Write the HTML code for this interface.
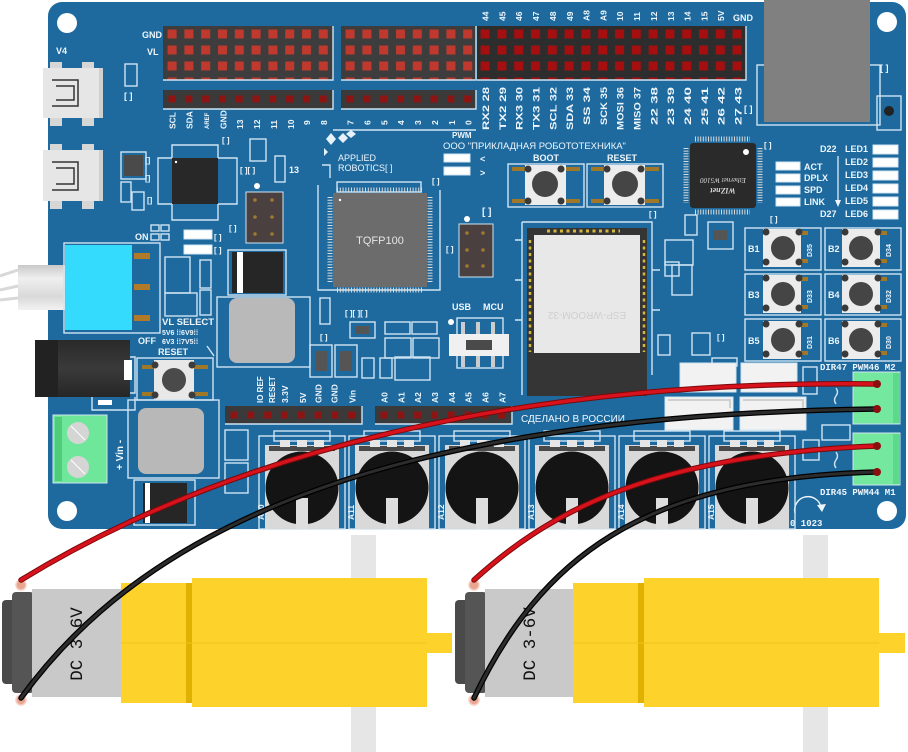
<!DOCTYPE html>
<html><head><meta charset="utf-8"><style>
html,body{margin:0;padding:0;background:#fff;}
svg{display:block;}
text{font-family:"Liberation Sans",sans-serif;font-weight:bold;fill:#eef6fc;}
.m{font-family:"Liberation Mono",monospace;}
.o{fill:none;stroke:#cfe4f3;stroke-width:1.4;}
</style></head><body>
<svg width="908" height="752" viewBox="0 0 908 752" xmlns="http://www.w3.org/2000/svg">
<defs>
<pattern id="pA" x="163.6" y="26" width="16.8" height="16" patternUnits="userSpaceOnUse"><rect x="4" y="3.5" width="9" height="9" fill="#c0392e"/></pattern>
<pattern id="pB" x="341.6" y="26" width="16.8" height="16" patternUnits="userSpaceOnUse"><rect x="4" y="3.5" width="9" height="9" fill="#c0392e"/></pattern>
<pattern id="pC" x="476.6" y="26" width="16.8" height="16" patternUnits="userSpaceOnUse"><rect x="4" y="3.5" width="9" height="9" fill="#a50f0f"/></pattern>
<pattern id="sA" x="163.6" y="91" width="16.8" height="16" patternUnits="userSpaceOnUse"><rect x="4.9" y="4.5" width="7" height="7" fill="#8e1414"/></pattern>
<pattern id="sB" x="341.6" y="91" width="16.8" height="16" patternUnits="userSpaceOnUse"><rect x="4.9" y="4.5" width="7" height="7" fill="#8e1414"/></pattern>
<pattern id="sP" x="225.6" y="407" width="16.8" height="16" patternUnits="userSpaceOnUse"><rect x="4.9" y="4.5" width="7" height="7" fill="#8e1414"/></pattern>
<pattern id="sQ" x="375.6" y="407" width="16.8" height="16" patternUnits="userSpaceOnUse"><rect x="4.9" y="4.5" width="7" height="7" fill="#8e1414"/></pattern>
<linearGradient id="lev" x1="0" y1="0" x2="0" y2="1"><stop offset="0" stop-color="#c9c9c9"/><stop offset="0.3" stop-color="#efefef"/><stop offset="0.7" stop-color="#d9d9d9"/><stop offset="1" stop-color="#f2f2f2"/></linearGradient>
<linearGradient id="jack" x1="0" y1="0" x2="0" y2="1"><stop offset="0" stop-color="#2a2a2a"/><stop offset="0.5" stop-color="#3a3a3a"/><stop offset="1" stop-color="#262626"/></linearGradient>
</defs>

<!-- BOARD -->
<rect x="48" y="2" width="858" height="527" rx="14" fill="#1e6a9f"/>
<circle cx="67" cy="23" r="10" fill="#fff"/>
<circle cx="67" cy="511" r="10" fill="#fff"/>
<circle cx="887" cy="22" r="10" fill="#fff"/>
<circle cx="887" cy="511" r="10" fill="#fff"/>

<!-- Ethernet jack -->
<rect x="757" y="65" width="123" height="60" class="o"/>
<rect x="764" y="0" width="106" height="122" fill="#808080"/>
<rect x="877" y="96" width="24" height="34" class="o"/>
<circle cx="889" cy="111" r="5" fill="#222"/>
<text x="880" y="71" font-size="9">[ ]</text>

<!-- top headers -->
<rect x="163" y="26" width="170" height="54" fill="#3d3d3d"/>
<rect x="163" y="26" width="170" height="54" fill="url(#pA)"/>
<rect x="341" y="26" width="135" height="54" fill="#3d3d3d"/>
<rect x="341" y="26" width="135" height="54" fill="url(#pB)"/>
<rect x="477" y="26" width="269" height="54" fill="#2d2d2d"/>
<rect x="477" y="26" width="269" height="54" fill="url(#pC)"/>
<path d="M163,80 H333 V26 M341,80 H476 V26 M477,80 H746 V26" class="o"/>
<rect x="163" y="90" width="170" height="19" fill="#3a3a3a"/>
<rect x="163" y="90" width="170" height="19" fill="url(#sA)"/>
<rect x="341" y="90" width="135" height="19" fill="#3a3a3a"/>
<rect x="341" y="90" width="135" height="19" fill="url(#sB)"/>
<path d="M163,109 H333 V90 M341,109 H476 V90" class="o"/>
<path d="M333,130 H476" class="o"/>

<text x="142" y="38" font-size="9">GND</text>
<text x="147" y="55" font-size="9">VL</text>
<text x="56" y="54" font-size="9">V4</text>

<!-- labels under block A/B -->
<g font-size="8.5">
<text transform="translate(175.5,129) rotate(-90)">SCL</text>
<text transform="translate(192.5,129) rotate(-90)">SDA</text>
<text transform="translate(209,129) rotate(-90)" font-size="6">AREF</text>
<text transform="translate(226.5,129) rotate(-90)">GND</text>
<text transform="translate(243,129) rotate(-90)">13</text>
<text transform="translate(260,129) rotate(-90)">12</text>
<text transform="translate(277,129) rotate(-90)">11</text>
<text transform="translate(294,129) rotate(-90)">10</text>
<text transform="translate(310,125) rotate(-90)">9</text>
<text transform="translate(327,125) rotate(-90)">8</text>
<text transform="translate(353.5,125) rotate(-90)">7</text>
<text transform="translate(370.5,125) rotate(-90)">6</text>
<text transform="translate(387.5,125) rotate(-90)">5</text>
<text transform="translate(404,125) rotate(-90)">4</text>
<text transform="translate(421,125) rotate(-90)">3</text>
<text transform="translate(438,125) rotate(-90)">2</text>
<text transform="translate(455,125) rotate(-90)">1</text>
<text transform="translate(471.5,125) rotate(-90)">0</text>
</g>
<!-- labels above block C -->
<g font-size="8.5">
<text transform="translate(488.5,21) rotate(-90)">44</text>
<text transform="translate(505.5,21) rotate(-90)">45</text>
<text transform="translate(522,21) rotate(-90)">46</text>
<text transform="translate(539,21) rotate(-90)">47</text>
<text transform="translate(556,21) rotate(-90)">48</text>
<text transform="translate(573,21) rotate(-90)">49</text>
<text transform="translate(589.5,21) rotate(-90)">A8</text>
<text transform="translate(606.5,21) rotate(-90)">A9</text>
<text transform="translate(623,21) rotate(-90)">10</text>
<text transform="translate(640,21) rotate(-90)">11</text>
<text transform="translate(657,21) rotate(-90)">12</text>
<text transform="translate(674,21) rotate(-90)">13</text>
<text transform="translate(690.5,21) rotate(-90)">14</text>
<text transform="translate(707.5,21) rotate(-90)">15</text>
<text transform="translate(724,21) rotate(-90)">5V</text>
<text x="733" y="21" font-size="9">GND</text>
</g>
<!-- labels below block C -->
<g font-size="9">
<text transform="translate(489,130) rotate(-90)" textLength="43" lengthAdjust="spacingAndGlyphs">RX2 28</text>
<text transform="translate(506,130) rotate(-90)" textLength="43" lengthAdjust="spacingAndGlyphs">TX2 29</text>
<text transform="translate(522.5,130) rotate(-90)" textLength="43" lengthAdjust="spacingAndGlyphs">RX3 30</text>
<text transform="translate(539.5,130) rotate(-90)" textLength="43" lengthAdjust="spacingAndGlyphs">TX3 31</text>
<text transform="translate(556.5,130) rotate(-90)" textLength="43" lengthAdjust="spacingAndGlyphs">SCL 32</text>
<text transform="translate(573,130) rotate(-90)" textLength="43" lengthAdjust="spacingAndGlyphs">SDA 33</text>
<text transform="translate(590,125) rotate(-90)" textLength="38" lengthAdjust="spacingAndGlyphs">SS 34</text>
<text transform="translate(607,125) rotate(-90)" textLength="38" lengthAdjust="spacingAndGlyphs">SCK 35</text>
<text transform="translate(623.5,130) rotate(-90)" textLength="43" lengthAdjust="spacingAndGlyphs">MOSI 36</text>
<text transform="translate(640.5,130) rotate(-90)" textLength="43" lengthAdjust="spacingAndGlyphs">MISO 37</text>
<text transform="translate(657.5,125) rotate(-90)" textLength="38" lengthAdjust="spacingAndGlyphs">22 38</text>
<text transform="translate(674,125) rotate(-90)" textLength="38" lengthAdjust="spacingAndGlyphs">23 39</text>
<text transform="translate(691,125) rotate(-90)" textLength="38" lengthAdjust="spacingAndGlyphs">24 40</text>
<text transform="translate(708,125) rotate(-90)" textLength="38" lengthAdjust="spacingAndGlyphs">25 41</text>
<text transform="translate(724.5,125) rotate(-90)" textLength="38" lengthAdjust="spacingAndGlyphs">26 42</text>
<text transform="translate(741.5,125) rotate(-90)" textLength="38" lengthAdjust="spacingAndGlyphs">27 43</text>
</g>
<text x="744" y="112" font-size="9">[ ]</text>

<!-- USB ports -->
<g>
<rect x="50" y="62" width="12" height="8" fill="#d6d6d6"/><rect x="82" y="62" width="12" height="8" fill="#d6d6d6"/>
<rect x="50" y="116" width="12" height="10" fill="#d6d6d6"/><rect x="82" y="116" width="12" height="10" fill="#d6d6d6"/>
<rect x="43" y="68" width="60" height="50" fill="#e6e6e6"/>
<rect x="99" y="68" width="4" height="50" fill="#d0d0d0"/>
<path d="M52,80 H78 V106 H52 M56,86 H74 V100 H56" fill="none" stroke="#333" stroke-width="1.5"/>
<rect x="50" y="144" width="12" height="8" fill="#d6d6d6"/><rect x="82" y="144" width="12" height="8" fill="#d6d6d6"/>
<rect x="50" y="200" width="12" height="9" fill="#d6d6d6"/><rect x="82" y="200" width="12" height="9" fill="#d6d6d6"/>
<rect x="43" y="150" width="60" height="51" fill="#e6e6e6"/>
<rect x="99" y="150" width="4" height="51" fill="#d0d0d0"/>
<path d="M52,162 H78 V190 H52 M56,168 H74 V184 H56" fill="none" stroke="#333" stroke-width="1.5"/>
</g>
<rect x="125" y="64" width="12" height="22" class="o"/>
<text x="124" y="99" font-size="9">[ ]</text>

<!-- small USB chip area -->
<rect x="121" y="152" width="25" height="27" class="o"/>
<rect x="124" y="155" width="19" height="21" fill="#4a4a4a"/>
<rect x="121" y="182" width="10" height="20" class="o"/>
<rect x="132" y="192" width="12" height="18" class="o"/>
<text x="145" y="163" font-size="8">[]</text><text x="145" y="181" font-size="8">[]</text><text x="147" y="203" font-size="8">[]</text>
<path d="M172,145 H218 V158 H237 V204 H218 V220 H172 V204 H158 V158 H172 Z" class="o"/>
<rect x="172" y="158" width="46" height="46" fill="#282828"/>
<circle cx="176" cy="162" r="1.2" fill="#fff"/>
<text x="222" y="143" font-size="8">[ ]</text>
<rect x="250" y="139" width="16" height="22" class="o"/>
<text x="240" y="173" font-size="8">[ ][ ]</text>
<rect x="275" y="156" width="10" height="26" class="o"/>
<text x="289" y="173" font-size="9">13</text>
<circle cx="257" cy="186" r="3" fill="#fff"/>
<rect x="246" y="192" width="37" height="51" fill="#4a4040" stroke="#cfe4f3" stroke-width="1"/>
<g fill="#a07830"><circle cx="255" cy="200" r="1.8"/><circle cx="272" cy="200" r="1.8"/><circle cx="255" cy="217" r="1.8"/><circle cx="272" cy="217" r="1.8"/><circle cx="255" cy="234" r="1.8"/><circle cx="272" cy="234" r="1.8"/></g>
<text x="229" y="231" font-size="8">[ ]</text>
<text x="135" y="240" font-size="9">ON</text>
<rect x="151" y="225" width="8" height="6" class="o"/><rect x="161" y="225" width="8" height="6" class="o"/>
<rect x="151" y="234" width="8" height="6" class="o"/><rect x="161" y="234" width="8" height="6" class="o"/>
<rect x="184" y="230" width="28" height="9" fill="#fff" stroke="#cfe4f3"/>
<rect x="184" y="245" width="28" height="9" fill="#fff" stroke="#cfe4f3"/>
<text x="214" y="240" font-size="8">[ ]</text><text x="214" y="253" font-size="8">[ ]</text>

<!-- cyan switch -->
<path d="M0,276 L18,270 M0,290 L18,286 M0,300 L18,298" stroke="#d8d8d8" stroke-width="3"/>
<rect x="18" y="265" width="48" height="45" fill="url(#lev)"/>
<rect x="64" y="243" width="96" height="90" class="o"/>
<rect x="65" y="245" width="67" height="85" fill="#34dbfc"/>
<g fill="#b07a28"><rect x="134" y="253" width="16" height="6"/><rect x="134" y="284" width="16" height="6"/><rect x="134" y="315" width="16" height="6"/></g>
<rect x="165" y="257" width="25" height="36" class="o"/>
<rect x="165" y="293" width="32" height="23" class="o"/>
<rect x="200" y="260" width="11" height="28" class="o"/>
<rect x="200" y="290" width="11" height="25" class="o"/>
<text x="162" y="325" font-size="9.5">VL SELECT</text>
<text x="162" y="335" font-size="7">5V6 ⁞⁞6V9⁞⁞</text>
<text x="138" y="344" font-size="9">OFF</text>
<text x="162" y="344" font-size="7">6V3 ⁞⁞7V5⁞⁞</text>
<text x="158" y="355" font-size="9">RESET</text>
<path d="M207,346 L214,356" class="o"/>

<!-- DC jack -->
<rect x="35" y="340" width="95" height="57" fill="url(#jack)"/>
<rect x="35" y="340" width="23" height="57" fill="#222"/>
<rect x="124" y="360" width="8" height="20" fill="#fff"/>
<path d="M130,357 H135 V393 H130 M92,397 V410 H135 V397" class="o"/>
<rect x="98" y="400" width="14" height="5" fill="#fff"/>

<!-- reset button left -->
<rect x="137" y="358" width="76" height="42" class="o"/>
<rect x="142" y="365" width="66" height="4" fill="#a07828"/><rect x="142" y="392" width="66" height="4" fill="#a07828"/>
<rect x="154" y="360" width="40" height="40" fill="#e8e8e8"/>
<circle cx="174" cy="380" r="12" fill="#4a4a4a"/>
<g fill="#3c3c3c"><circle cx="155" cy="365" r="3.5"/><circle cx="192" cy="365" r="3.5"/><circle cx="155" cy="395" r="3.5"/><circle cx="192" cy="395" r="3.5"/></g>

<!-- green terminal Vin -->
<rect x="53" y="415" width="54" height="68" fill="#6fe79a" stroke="#cfe4f3"/>
<rect x="55" y="417" width="7" height="64" fill="#4fcd7a"/>
<circle cx="78" cy="433" r="11" fill="#d5d5d5"/>
<circle cx="78" cy="467" r="11" fill="#d5d5d5"/>
<path d="M71,426 L85,440 M71,460 L85,474" stroke="#fff" stroke-width="1"/>
<text transform="translate(123,470) rotate(-90)" font-size="10">+ Vin -</text>

<!-- inductors -->
<rect x="128" y="400" width="91" height="78" class="o"/>
<rect x="138" y="408" width="66" height="66" rx="8" fill="#b8b8b8"/>
<rect x="217" y="297" width="93" height="70" class="o"/>
<rect x="229" y="298" width="66" height="65" rx="8" fill="#b9b9b9"/>
<!-- diodes -->
<rect x="228" y="250" width="58" height="45" class="o"/>
<rect x="232" y="252" width="51" height="41" fill="#262626"/>
<rect x="237" y="252" width="6" height="41" fill="#fff"/>
<rect x="134" y="480" width="61" height="45" class="o"/>
<rect x="143" y="483" width="44" height="40" fill="#262626"/>
<rect x="145" y="483" width="5" height="40" fill="#fff"/>
<rect x="225" y="430" width="23" height="30" class="o"/>
<rect x="225" y="463" width="23" height="30" class="o"/>

<!-- TQFP100 -->
<path d="M322,165 H330 V178 M318,185 V290 H440 V190" class="o"/>
<rect x="337" y="182" width="84" height="10" class="o"/>
<rect x="333" y="193" width="94" height="94" fill="#6c6c6c"/>
<path d="M337,190 H423 M337,290 H423" stroke="#dcdcdc" stroke-width="5" stroke-dasharray="1 1.8"/>
<path d="M330,197 V283 M430,197 V283" stroke="#dcdcdc" stroke-width="5" stroke-dasharray="1 1.8"/>
<circle cx="340" cy="200" r="1.2" fill="#fff"/>
<text x="380" y="244" font-size="11" text-anchor="middle" style="font-weight:normal;fill:#e4e4e4">TQFP100</text>
<text x="345" y="316" font-size="8">[ ][ ][ ]</text>
<rect x="350" y="322" width="25" height="16" class="o"/>
<rect x="355" y="326" width="14" height="8" fill="#555"/>
<rect x="320" y="298" width="10" height="26" class="o"/>
<text x="320" y="340" font-size="8">[ ]</text>
<!-- logo -->
<path d="M326,139 l5,-6 l5,6 l-5,6z M338,138 l5,-5 l5,5 l-5,5z M346,134 l5,-4 l5,4 l-5,4z M324,148 l4,4 l-4,4z" fill="#e8f2fa"/>
<text x="338" y="161" font-size="9" style="font-weight:normal">APPLIED</text>
<text x="338" y="171" font-size="9" style="font-weight:normal">ROBOTICS[ ]</text>

<text x="452" y="138" font-size="8">PWM</text>
<text x="443" y="149" font-size="9.5" style="font-weight:normal">ООО "ПРИКЛАДНАЯ РОБОТОТЕХНИКА"</text>
<rect x="444" y="154" width="26" height="8" fill="#fff" stroke="#cfe4f3"/>
<rect x="444" y="167" width="26" height="8" fill="#fff" stroke="#cfe4f3"/>
<text x="480" y="162" font-size="9">&lt;</text><text x="480" y="176" font-size="9">&gt;</text>
<text x="432" y="184" font-size="8">[ ]</text>
<text x="482" y="215" font-size="10">[ ]</text>
<circle cx="467" cy="219" r="3" fill="#fff"/>
<rect x="459" y="224" width="34" height="53" fill="#4a4040" stroke="#cfe4f3"/>
<g fill="#a07830"><circle cx="467" cy="233" r="1.8"/><circle cx="483" cy="233" r="1.8"/><circle cx="467" cy="250" r="1.8"/><circle cx="483" cy="250" r="1.8"/><circle cx="467" cy="266" r="1.8"/><circle cx="483" cy="266" r="1.8"/></g>
<text x="446" y="252" font-size="8">[ ]</text>

<!-- BOOT / RESET -->
<text x="546" y="161" font-size="9" text-anchor="middle">BOOT</text>
<text x="622" y="161" font-size="9" text-anchor="middle">RESET</text>
<rect x="508" y="164" width="76" height="43" class="o"/>
<rect x="587" y="164" width="76" height="43" class="o"/>
<g fill="#a07828">
<rect x="512" y="167" width="68" height="4"/><rect x="512" y="199" width="68" height="4"/>
<rect x="591" y="167" width="68" height="4"/><rect x="591" y="199" width="68" height="4"/>
</g>
<rect x="525" y="165" width="41" height="40" fill="#ececec"/>
<rect x="604" y="165" width="41" height="40" fill="#ececec"/>
<circle cx="545" cy="184" r="13" fill="#454545"/>
<circle cx="625" cy="184" r="13" fill="#454545"/>
<g fill="#3a3a3a"><circle cx="528" cy="169" r="3.5"/><circle cx="561" cy="169" r="3.5"/><circle cx="528" cy="201" r="3.5"/><circle cx="561" cy="201" r="3.5"/>
<circle cx="607" cy="169" r="3.5"/><circle cx="641" cy="169" r="3.5"/><circle cx="607" cy="201" r="3.5"/><circle cx="641" cy="201" r="3.5"/></g>
<text x="649" y="217" font-size="8">[ ]</text>

<!-- W5100 -->
<path d="M695,139 H750 M695,212 H750" stroke="#d8d8d8" stroke-width="5" stroke-dasharray="1 1.6"/>
<path d="M686,148 V203 M760,148 V203" stroke="#d8d8d8" stroke-width="5" stroke-dasharray="1 1.6"/>
<rect x="690" y="143" width="66" height="65" rx="3" fill="#2a2a2a"/>
<circle cx="746" cy="152" r="3" fill="#fff"/>
<text transform="translate(723,178) rotate(180)" font-size="7" text-anchor="middle" style="font-family:'Liberation Serif',serif;font-style:italic;font-weight:normal;fill:#ddd">Ethernet W5100</text>
<text transform="translate(723,188) rotate(180)" font-size="8" text-anchor="middle" style="font-family:'Liberation Serif',serif;font-style:italic;fill:#ddd">WIZnet</text>
<text x="764" y="148" font-size="8">[ ]</text>
<rect x="685" y="215" width="12" height="20" class="o"/>
<rect x="708" y="222" width="25" height="27" class="o"/>
<rect x="713" y="230" width="14" height="10" fill="#555"/>

<!-- LEDs right -->
<g font-size="9">
<rect x="776" y="162" width="24" height="8" fill="#fff" stroke="#cfe4f3"/><text x="804" y="170">ACT</text>
<rect x="776" y="174" width="24" height="8" fill="#fff" stroke="#cfe4f3"/><text x="804" y="181">DPLX</text>
<rect x="776" y="186" width="24" height="8" fill="#fff" stroke="#cfe4f3"/><text x="804" y="193">SPD</text>
<rect x="776" y="198" width="24" height="8" fill="#fff" stroke="#cfe4f3"/><text x="804" y="205">LINK</text>
<text x="820" y="152">D22</text><text x="820" y="217">D27</text>
<text x="845" y="152">LED1</text><text x="845" y="165">LED2</text><text x="845" y="178">LED3</text><text x="845" y="191">LED4</text><text x="845" y="204">LED5</text><text x="845" y="217">LED6</text>
</g>
<path d="M838,156 V203" stroke="#eef6fc" stroke-width="1.2"/><path d="M835,200 L838,207 L841,200Z" fill="#eef6fc"/>
<g fill="#fff" stroke="#cfe4f3"><rect x="873" y="145" width="25" height="9"/><rect x="873" y="158" width="25" height="9"/><rect x="873" y="171" width="25" height="9"/><rect x="873" y="184" width="25" height="9"/><rect x="873" y="197" width="25" height="9"/><rect x="873" y="210" width="25" height="9"/></g>
<text x="770" y="222" font-size="8">[ ]</text>

<!-- B1..B6 -->
<g id="btns">
<rect x="745" y="228" width="76" height="42" class="o"/><rect x="825" y="228" width="76" height="42" class="o"/>
<rect x="745" y="274" width="76" height="41" class="o"/><rect x="825" y="274" width="76" height="41" class="o"/>
<rect x="745" y="319" width="76" height="42" class="o"/><rect x="825" y="319" width="76" height="42" class="o"/>
<g fill="#a07828">
<rect x="766" y="231" width="42" height="4"/><rect x="766" y="259" width="42" height="4"/>
<rect x="845" y="231" width="42" height="4"/><rect x="845" y="259" width="42" height="4"/>
<rect x="766" y="277" width="42" height="4"/><rect x="766" y="305" width="42" height="4"/>
<rect x="845" y="277" width="42" height="4"/><rect x="845" y="305" width="42" height="4"/>
<rect x="766" y="323" width="42" height="4"/><rect x="766" y="351" width="42" height="4"/>
<rect x="845" y="323" width="42" height="4"/><rect x="845" y="351" width="42" height="4"/>
</g>
<g fill="#ececec">
<rect x="763" y="229" width="38" height="38"/><rect x="842" y="229" width="38" height="38"/>
<rect x="763" y="275" width="38" height="38"/><rect x="842" y="275" width="38" height="38"/>
<rect x="763" y="321" width="38" height="38"/><rect x="842" y="321" width="38" height="38"/>
</g>
<g fill="#454545">
<circle cx="783" cy="248" r="12"/><circle cx="861" cy="248" r="12"/>
<circle cx="783" cy="294" r="12"/><circle cx="861" cy="294" r="12"/>
<circle cx="783" cy="340" r="12"/><circle cx="861" cy="340" r="12"/>
</g>
<g fill="#3a3a3a">
<circle cx="766" cy="232" r="3.5"/><circle cx="799" cy="232" r="3.5"/><circle cx="766" cy="262" r="3.5"/><circle cx="799" cy="262" r="3.5"/>
<circle cx="845" cy="232" r="3.5"/><circle cx="878" cy="232" r="3.5"/><circle cx="845" cy="262" r="3.5"/><circle cx="878" cy="262" r="3.5"/>
<circle cx="766" cy="278" r="3.5"/><circle cx="799" cy="278" r="3.5"/><circle cx="766" cy="308" r="3.5"/><circle cx="799" cy="308" r="3.5"/>
<circle cx="845" cy="278" r="3.5"/><circle cx="878" cy="278" r="3.5"/><circle cx="845" cy="308" r="3.5"/><circle cx="878" cy="308" r="3.5"/>
<circle cx="766" cy="324" r="3.5"/><circle cx="799" cy="324" r="3.5"/><circle cx="766" cy="354" r="3.5"/><circle cx="799" cy="354" r="3.5"/>
<circle cx="845" cy="324" r="3.5"/><circle cx="878" cy="324" r="3.5"/><circle cx="845" cy="354" r="3.5"/><circle cx="878" cy="354" r="3.5"/>
</g>
<g font-size="9">
<text x="748" y="252">B1</text><text x="828" y="252">B2</text>
<text x="748" y="298">B3</text><text x="828" y="298">B4</text>
<text x="748" y="344">B5</text><text x="828" y="344">B6</text>
</g>
<g font-size="7">
<text transform="translate(812,257) rotate(-90)">D35</text><text transform="translate(891,257) rotate(-90)">D34</text>
<text transform="translate(812,303) rotate(-90)">D33</text><text transform="translate(891,303) rotate(-90)">D32</text>
<text transform="translate(812,349) rotate(-90)">D31</text><text transform="translate(891,349) rotate(-90)">D30</text>
</g>
</g>

<!-- ESP32 -->
<path d="M522,222 H652 V375" class="o"/>
<path d="M522,222 V395" class="o"/>
<rect x="527" y="228" width="120" height="168" fill="#353535"/>
<rect x="534" y="235" width="106" height="118" fill="#e8e8e8"/>
<path d="M547,231 H620" stroke="#d6b63a" stroke-width="3" stroke-dasharray="3 3.5" fill="none"/>
<path d="M530,240 V352 M644,240 V352" stroke="#d6b63a" stroke-width="2.5" stroke-dasharray="3 3.5" fill="none"/>
<text transform="translate(587,312) rotate(180)" font-size="10" text-anchor="middle" style="font-weight:normal;fill:#cfcfcf">ESP-WROOM-32</text>
<path d="M515,240 H522 M515,280 H522 M515,320 H522 M652,270 H660 M652,310 H660" class="o"/>

<!-- USB/MCU switch -->
<text x="452" y="310" font-size="9">USB</text><text x="483" y="310" font-size="9">MCU</text>
<circle cx="451" cy="322" r="3" fill="#fff"/>
<rect x="457" y="318" width="46" height="50" class="o"/>
<g fill="#cccccc"><rect x="461" y="322" width="4" height="12"/><rect x="476" y="322" width="4" height="12"/><rect x="491" y="322" width="4" height="12"/>
<rect x="461" y="356" width="4" height="11"/><rect x="476" y="356" width="4" height="11"/><rect x="491" y="356" width="4" height="11"/></g>
<rect x="449" y="334" width="60" height="22" fill="#f0f0f0"/>
<rect x="466" y="340" width="26" height="10" fill="#4a4a4a"/>

<!-- misc small parts center -->
<rect x="385" y="322" width="25" height="12" class="o"/><rect x="412" y="322" width="25" height="12" class="o"/>
<rect x="385" y="338" width="26" height="20" class="o"/><rect x="413" y="338" width="26" height="20" class="o"/>
<rect x="310" y="345" width="22" height="32" class="o"/><rect x="335" y="345" width="22" height="32" class="o"/>
<rect x="315" y="351" width="12" height="20" fill="#555"/><rect x="340" y="351" width="12" height="20" fill="#555"/>
<rect x="362" y="358" width="12" height="20" class="o"/><rect x="380" y="358" width="12" height="20" class="o"/>
<rect x="395" y="357" width="35" height="23" class="o"/>
<rect x="665" y="240" width="28" height="25" class="o"/><rect x="672" y="265" width="20" height="30" class="o"/>
<rect x="665" y="262" width="14" height="14" class="o"/>
<rect x="658" y="335" width="12" height="20" class="o"/><rect x="692" y="333" width="18" height="22" class="o"/>
<text x="717" y="340" font-size="8">[ ]</text>
<rect x="712" y="358" width="25" height="8" class="o"/>

<!-- bottom headers -->
<rect x="225" y="406" width="137" height="18" fill="#3a3a3a"/>
<rect x="225" y="406" width="137" height="18" fill="url(#sP)"/>
<rect x="375" y="406" width="137" height="18" fill="#3a3a3a"/>
<rect x="375" y="406" width="137" height="18" fill="url(#sQ)"/>
<path d="M225,424 H362 V406 M375,424 H512 V406" class="o"/>
<g font-size="8.5">
<text transform="translate(263,403) rotate(-90)" font-size="8">IO REF</text>
<text transform="translate(275,403) rotate(-90)" font-size="8">RESET</text>
<text transform="translate(288,403) rotate(-90)">3.3V</text>
<text transform="translate(306,403) rotate(-90)">5V</text>
<text transform="translate(321.5,403) rotate(-90)">GND</text>
<text transform="translate(337.5,403) rotate(-90)">GND</text>
<text transform="translate(355.5,403) rotate(-90)">Vin</text>
<text transform="translate(387.5,403) rotate(-90)">A0</text>
<text transform="translate(404.5,403) rotate(-90)">A1</text>
<text transform="translate(421,403) rotate(-90)">A2</text>
<text transform="translate(438,403) rotate(-90)">A3</text>
<text transform="translate(455,403) rotate(-90)">A4</text>
<text transform="translate(471.5,403) rotate(-90)">A5</text>
<text transform="translate(488.5,403) rotate(-90)">A6</text>
<text transform="translate(505.5,403) rotate(-90)">A7</text>
</g>
<text x="521" y="422" font-size="10" style="font-weight:normal">СДЕЛАНО В РОССИИ</text>

<!-- white connectors right -->
<rect x="680" y="363" width="56" height="29" fill="#f2f2f2" stroke="#cfe4f3"/>
<rect x="741" y="363" width="56" height="29" fill="#f2f2f2" stroke="#cfe4f3"/>
<rect x="665" y="397" width="68" height="33" fill="#f2f2f2" stroke="#cfe4f3"/>
<rect x="740" y="397" width="66" height="33" fill="#f2f2f2" stroke="#cfe4f3"/>
<path d="M668,400 H730 V408 M743,400 H803 V408" stroke="#cfcfcf" fill="none" stroke-width="2"/>
<rect x="803" y="367" width="14" height="27" class="o"/>
<rect x="822" y="425" width="28" height="15" class="o"/>
<rect x="803" y="440" width="16" height="20" class="o"/>
<path d="M836,388 q3,4 0,8 q-3,4 0,8 M836,452 q3,4 0,8 q-3,4 0,8" class="o"/>
<!-- green terminals right -->
<rect x="853" y="372" width="47" height="52" fill="#74e89e" stroke="#cfe4f3"/>
<rect x="853" y="433" width="47" height="52" fill="#74e89e" stroke="#cfe4f3"/>
<rect x="893" y="373" width="7" height="50" fill="#5cd98a"/>
<rect x="893" y="434" width="7" height="50" fill="#5cd98a"/>
<g font-size="9">
<text x="820" y="370" class="m" style="font-weight:bold">DIR47 PWM46 M2</text>
<text x="820" y="495" class="m" style="font-weight:bold">DIR45 PWM44 M1</text>
<text x="790" y="526" class="m" style="font-weight:bold">0 1023</text>
</g>
<path d="M795,513 A13,13 0 1 1 821,507" fill="none" stroke="#eef6fc" stroke-width="1.4"/>
<path d="M817,505 L822,512 L826,504Z" fill="#eef6fc"/>

<!-- pots -->
<g>
<g transform="translate(302,0)">
<rect x="-43" y="436" width="86" height="93" class="o"/>
<rect x="-28" y="431" width="56" height="10" class="o"/>
<rect x="-37" y="445" width="74" height="84" fill="#d9d9d9"/>
<rect x="-33" y="446" width="66" height="5" fill="#4a4a4a"/>
<g fill="#e6e6e6"><rect x="-22" y="440" width="10" height="7"/><rect x="-5" y="440" width="10" height="7"/><rect x="12" y="440" width="10" height="7"/></g>
<circle cx="0" cy="488" r="36.5" fill="#141414"/>
<rect x="-6" y="498" width="12" height="31" fill="#dedede"/>
</g>
<g transform="translate(392,0)">
<rect x="-43" y="436" width="86" height="93" class="o"/>
<rect x="-28" y="431" width="56" height="10" class="o"/>
<rect x="-37" y="445" width="74" height="84" fill="#d9d9d9"/>
<rect x="-33" y="446" width="66" height="5" fill="#4a4a4a"/>
<g fill="#e6e6e6"><rect x="-22" y="440" width="10" height="7"/><rect x="-5" y="440" width="10" height="7"/><rect x="12" y="440" width="10" height="7"/></g>
<circle cx="0" cy="488" r="36.5" fill="#141414"/>
<rect x="-6" y="498" width="12" height="31" fill="#dedede"/>
</g>
<g transform="translate(482,0)">
<rect x="-43" y="436" width="86" height="93" class="o"/>
<rect x="-28" y="431" width="56" height="10" class="o"/>
<rect x="-37" y="445" width="74" height="84" fill="#d9d9d9"/>
<rect x="-33" y="446" width="66" height="5" fill="#4a4a4a"/>
<g fill="#e6e6e6"><rect x="-22" y="440" width="10" height="7"/><rect x="-5" y="440" width="10" height="7"/><rect x="12" y="440" width="10" height="7"/></g>
<circle cx="0" cy="488" r="36.5" fill="#141414"/>
<rect x="-6" y="498" width="12" height="31" fill="#dedede"/>
</g>
<g transform="translate(572,0)">
<rect x="-43" y="436" width="86" height="93" class="o"/>
<rect x="-28" y="431" width="56" height="10" class="o"/>
<rect x="-37" y="445" width="74" height="84" fill="#d9d9d9"/>
<rect x="-33" y="446" width="66" height="5" fill="#4a4a4a"/>
<g fill="#e6e6e6"><rect x="-22" y="440" width="10" height="7"/><rect x="-5" y="440" width="10" height="7"/><rect x="12" y="440" width="10" height="7"/></g>
<circle cx="0" cy="488" r="36.5" fill="#141414"/>
<rect x="-6" y="498" width="12" height="31" fill="#dedede"/>
</g>
<g transform="translate(662,0)">
<rect x="-43" y="436" width="86" height="93" class="o"/>
<rect x="-28" y="431" width="56" height="10" class="o"/>
<rect x="-37" y="445" width="74" height="84" fill="#d9d9d9"/>
<rect x="-33" y="446" width="66" height="5" fill="#4a4a4a"/>
<g fill="#e6e6e6"><rect x="-22" y="440" width="10" height="7"/><rect x="-5" y="440" width="10" height="7"/><rect x="12" y="440" width="10" height="7"/></g>
<circle cx="0" cy="488" r="36.5" fill="#141414"/>
<rect x="-6" y="498" width="12" height="31" fill="#dedede"/>
</g>
<g transform="translate(752,0)">
<rect x="-43" y="436" width="86" height="93" class="o"/>
<rect x="-28" y="431" width="56" height="10" class="o"/>
<rect x="-37" y="445" width="74" height="84" fill="#d9d9d9"/>
<rect x="-33" y="446" width="66" height="5" fill="#4a4a4a"/>
<g fill="#e6e6e6"><rect x="-22" y="440" width="10" height="7"/><rect x="-5" y="440" width="10" height="7"/><rect x="12" y="440" width="10" height="7"/></g>
<circle cx="0" cy="488" r="36.5" fill="#141414"/>
<rect x="-6" y="498" width="12" height="31" fill="#dedede"/>
</g>
</g>
<g font-size="8.5">
<text transform="translate(264,520) rotate(-90)">A10</text>
<text transform="translate(354,520) rotate(-90)">A11</text>
<text transform="translate(444,520) rotate(-90)">A12</text>
<text transform="translate(534,520) rotate(-90)">A13</text>
<text transform="translate(624,520) rotate(-90)">A14</text>
<text transform="translate(714,520) rotate(-90)">A15</text>
</g>

<!-- MOTORS -->
<rect x="351" y="535" width="25" height="217" fill="#e6e6e6"/>
<rect x="803" y="535" width="25" height="217" fill="#e6e6e6"/>
<g>
<rect x="2" y="600" width="16" height="84" rx="4" fill="#4a4a4a"/>
<rect x="12" y="592" width="22" height="101" rx="4" fill="#555"/>
<rect x="32" y="589" width="89" height="108" fill="#c9c9c9"/>
<text transform="translate(82,644) rotate(-90)" font-size="17.5" text-anchor="middle" class="m" style="font-weight:normal;fill:#111">DC 3-6V</text>
<rect x="121" y="583" width="66" height="120" fill="#fdd22b"/>
<rect x="186" y="583" width="6" height="120" fill="#e0b100"/>
<rect x="192" y="578" width="235" height="129" fill="#fdd22b"/>
<rect x="426" y="633" width="26" height="20" fill="#fdd22b"/>
<path d="M121,643 H427" stroke="#f2c41c" stroke-width="1"/>
</g>
<g>
<rect x="455" y="600" width="16" height="84" rx="4" fill="#4a4a4a"/>
<rect x="465" y="592" width="22" height="101" rx="4" fill="#555"/>
<rect x="485" y="589" width="88" height="108" fill="#c9c9c9"/>
<text transform="translate(535,644) rotate(-90)" font-size="17.5" text-anchor="middle" class="m" style="font-weight:normal;fill:#111">DC 3-6V</text>
<rect x="573" y="583" width="66" height="120" fill="#fdd22b"/>
<rect x="638" y="583" width="6" height="120" fill="#e0b100"/>
<rect x="644" y="578" width="235" height="129" fill="#fdd22b"/>
<rect x="878" y="633" width="27" height="20" fill="#fdd22b"/>
<path d="M573,643 H879" stroke="#f2c41c" stroke-width="1"/>
</g>
<g fill="#e8a58f" stroke="#f6cfc2" stroke-width="1.5">
<circle cx="21" cy="585" r="5"/><circle cx="21" cy="700" r="5"/>
<circle cx="474" cy="585" r="5"/><circle cx="474" cy="700" r="5"/>
</g>

<!-- WIRES -->
<g fill="none" stroke-linecap="round">
<path d="M21,580 C250,440 550,380 877,384" stroke="#7a0a0a" stroke-width="5.5"/>
<path d="M21,580 C250,440 550,380 877,384" stroke="#d8121c" stroke-width="3.5"/>
<path d="M21,698 C150,520 400,415 877,409" stroke="#000" stroke-width="5.5"/>
<path d="M21,698 C150,520 400,415 877,409" stroke="#2c2c2c" stroke-width="3"/>
<path d="M474,580 C540,520 640,455 877,446" stroke="#7a0a0a" stroke-width="5.5"/>
<path d="M474,580 C540,520 640,455 877,446" stroke="#d8121c" stroke-width="3.5"/>
<path d="M474,698 C540,560 640,478 877,472" stroke="#000" stroke-width="5.5"/>
<path d="M474,698 C540,560 640,478 877,472" stroke="#2c2c2c" stroke-width="3"/>
</g>
<g fill="#8a1010">
<circle cx="877" cy="384" r="4"/><circle cx="877" cy="409" r="4"/><circle cx="877" cy="446" r="4"/><circle cx="877" cy="472" r="4"/>
</g>
</svg>
</body></html>
